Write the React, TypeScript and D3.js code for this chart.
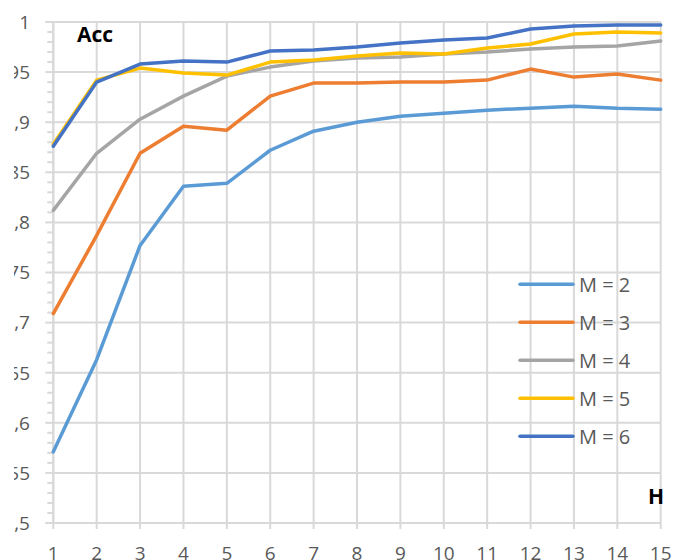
import React from "react";
import * as d3 from "d3";

const hValues = [1, 2, 3, 4, 5, 6, 7, 8, 9, 10, 11, 12, 13, 14, 15];
const seriesNames = ["M = 2", "M = 3", "M = 4", "M = 5", "M = 6"];
const seriesColors = ["#5B9BD5", "#ED7D31", "#A5A5A5", "#FFC000", "#4472C4"];
const m2 = [0.571, 0.663, 0.777, 0.836, 0.839, 0.872, 0.891, 0.9, 0.906, 0.909, 0.912, 0.914, 0.916, 0.914, 0.913];
const m3 = [0.709, 0.787, 0.869, 0.896, 0.892, 0.926, 0.939, 0.939, 0.94, 0.94, 0.942, 0.953, 0.945, 0.948, 0.942];
const m4 = [0.812, 0.869, 0.903, 0.926, 0.946, 0.955, 0.961, 0.964, 0.965, 0.968, 0.97, 0.973, 0.975, 0.976, 0.981];
const m5 = [0.878, 0.942, 0.954, 0.949, 0.947, 0.96, 0.962, 0.966, 0.969, 0.968, 0.974, 0.978, 0.988, 0.99, 0.989];
const m6 = [0.876, 0.94, 0.958, 0.961, 0.96, 0.971, 0.972, 0.975, 0.979, 0.982, 0.984, 0.993, 0.996, 0.997, 0.997];
const seriesValues = [m2, m3, m4, m5, m6];
const yTicks = [0.5, 0.55, 0.6, 0.65, 0.7, 0.75, 0.8, 0.85, 0.9, 0.95, 1];
const yTickLabels = ["0,5", "0,55", "0,6", "0,65", "0,7", "0,75", "0,8", "0,85", "0,9", "0,95", "1"];
const yTitle = "Acc";
const xTitle = "H";

export default function App() {
  const W = 673, H = 560;
  const left = 53.3, right = 660.7, top = 22, bottom = 523;
  const x = d3.scaleLinear().domain([1, 15]).range([left, right]);
  const y = d3.scaleLinear().domain([0.5, 1]).range([bottom, top]);
  const line = d3.line<number>().x((_, i) => x(hValues[i])).y((d) => y(d));
  const minor = d3.range(50, 101).map((v) => v / 100).filter((v) => Math.round(v * 100) % 5 !== 0);
  const font = "'Open Sans', 'Noto Sans', sans-serif";
  const grid = "#d9d9d9";
  const legX1 = 520, legX2 = 573, legY0 = 284.3, legDy = 38;
  return (
    <svg width={W} height={H} style={{ position: "absolute", left: 0, top: 0, background: "#fff" }}>
      <defs>
        <clipPath id="ylab">
          <rect x={14} y={0} width={40} height={H} />
        </clipPath>
      </defs>
      <rect width={W} height={H} fill="#fff" />
      {yTicks.map((t) => (
        <line key={"gy" + t} x1={left} x2={right} y1={y(t)} y2={y(t)} stroke={grid} strokeWidth={2} />
      ))}
      {hValues.map((h) => (
        <line key={"gx" + h} x1={x(h)} x2={x(h)} y1={top} y2={bottom} stroke={grid} strokeWidth={2} />
      ))}
      {minor.map((t) => (
        <line key={"mt" + t} x1={left - 6} x2={left} y1={y(t)} y2={y(t)} stroke={grid} strokeWidth={2} />
      ))}
      {yTicks.map((t) => (
        <line key={"yt" + t} x1={left - 8} x2={left} y1={y(t)} y2={y(t)} stroke={grid} strokeWidth={2} />
      ))}
      {hValues.map((h) => (
        <line key={"xt" + h} x1={x(h)} x2={x(h)} y1={bottom} y2={bottom + 6} stroke={grid} strokeWidth={2} />
      ))}
      <line x1={left} x2={left} y1={top} y2={bottom} stroke={grid} strokeWidth={2} />
      <line x1={left} x2={right} y1={bottom} y2={bottom} stroke={grid} strokeWidth={2} />
      <g clipPath="url(#ylab)">
        {yTicks.map((t, i) => (
          <text key={"yl" + t} x={30} y={y(t)} dy="0.36em" textAnchor="end" fontFamily={font} fontSize={19} fill="#595959">
            {yTickLabels[i]}
          </text>
        ))}
      </g>
      {hValues.map((h) => (
        <text key={"xl" + h} x={x(h)} y={559.5} textAnchor="middle" fontFamily={font} fontSize={19} fill="#595959">
          {h}
        </text>
      ))}
      {seriesValues.map((vals, i) => (
        <path key={"s" + i} d={line(vals) || ""} fill="none" stroke={seriesColors[i]} strokeWidth={3.5} strokeLinejoin="round" strokeLinecap="round" />
      ))}
      <text x={77} y={42} fontFamily={font} fontSize={21} fontWeight="bold" fill="#000">{yTitle}</text>
      <text x={664} y={504} textAnchor="end" fontFamily={font} fontSize={21} fontWeight="bold" fill="#000">{xTitle}</text>
      {seriesNames.map((n, i) => (
        <g key={"lg" + i}>
          <line x1={legX1} x2={legX2} y1={legY0 + i * legDy} y2={legY0 + i * legDy} stroke={seriesColors[i]} strokeWidth={3.5} strokeLinecap="round" />
          <text x={579} y={legY0 + i * legDy} dy="0.36em" fontFamily={font} fontSize={20} fill="#595959">{n}</text>
        </g>
      ))}
    </svg>
  );
}
